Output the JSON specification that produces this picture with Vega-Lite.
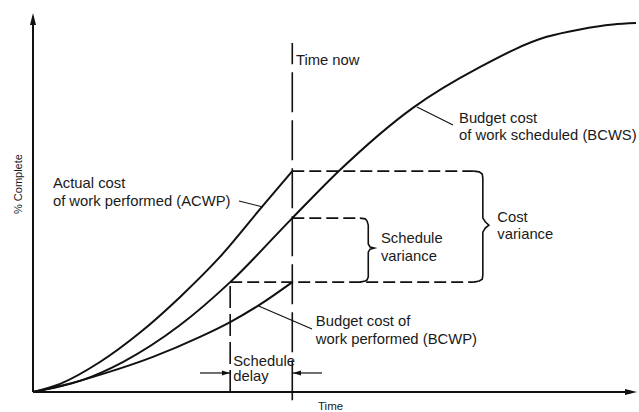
{
  "$schema": "https://vega.github.io/schema/vega-lite/v6.json",
  "width": 639,
  "height": 412,
  "autosize": {"type": "none"},
  "padding": 0,
  "background": "white",
  "config": {"view": {"stroke": null}},
  "datasets": {
    "curves": [
      {"series": "ACWP", "t": 0, "p": 0},
      {"series": "ACWP", "t": 4.5, "p": 2.2},
      {"series": "ACWP", "t": 11.1, "p": 8.1},
      {"series": "ACWP", "t": 17.7, "p": 16.0},
      {"series": "ACWP", "t": 24.4, "p": 25.7},
      {"series": "ACWP", "t": 31.0, "p": 36.5},
      {"series": "ACWP", "t": 38.1, "p": 50.3},
      {"series": "ACWP", "t": 43.0, "p": 59.7},
      {"series": "BCWS", "t": 0, "p": 0},
      {"series": "BCWS", "t": 7.8, "p": 3.0},
      {"series": "BCWS", "t": 14.9, "p": 8.1},
      {"series": "BCWS", "t": 24.4, "p": 18.1},
      {"series": "BCWS", "t": 32.7, "p": 29.7},
      {"series": "BCWS", "t": 43.0, "p": 47.0},
      {"series": "BCWS", "t": 50.9, "p": 60.0},
      {"series": "BCWS", "t": 63.0, "p": 76.8},
      {"series": "BCWS", "t": 74.1, "p": 87.8},
      {"series": "BCWS", "t": 85.2, "p": 96.0},
      {"series": "BCWS", "t": 90.7, "p": 98.0},
      {"series": "BCWS", "t": 96.2, "p": 99.3},
      {"series": "BCWS", "t": 100.0, "p": 99.7},
      {"series": "BCWP", "t": 0, "p": 0},
      {"series": "BCWP", "t": 5.0, "p": 1.8},
      {"series": "BCWP", "t": 11.6, "p": 4.9},
      {"series": "BCWP", "t": 19.9, "p": 9.5},
      {"series": "BCWP", "t": 27.7, "p": 14.9},
      {"series": "BCWP", "t": 32.7, "p": 18.9},
      {"series": "BCWP", "t": 37.6, "p": 23.6},
      {"series": "BCWP", "t": 43.0, "p": 29.7}
    ],
    "braces": [
      {"brace": "cost", "i": 1, "t": 73.1, "p": 59.7},
      {"brace": "cost", "i": 2, "t": 74.0, "p": 59.5},
      {"brace": "cost", "i": 3, "t": 74.5, "p": 58.9},
      {"brace": "cost", "i": 4, "t": 74.6, "p": 57.8},
      {"brace": "cost", "i": 5, "t": 74.6, "p": 47.0},
      {"brace": "cost", "i": 6, "t": 75.0, "p": 46.0},
      {"brace": "cost", "i": 7, "t": 75.6, "p": 45.1},
      {"brace": "cost", "i": 8, "t": 75.0, "p": 44.3},
      {"brace": "cost", "i": 9, "t": 74.6, "p": 43.2},
      {"brace": "cost", "i": 10, "t": 74.6, "p": 31.6},
      {"brace": "cost", "i": 11, "t": 74.5, "p": 30.5},
      {"brace": "cost", "i": 12, "t": 74.0, "p": 30.0},
      {"brace": "cost", "i": 13, "t": 73.1, "p": 29.7},
      {"brace": "schedule", "i": 1, "t": 54.2, "p": 47.0},
      {"brace": "schedule", "i": 2, "t": 55.1, "p": 46.8},
      {"brace": "schedule", "i": 3, "t": 55.4, "p": 46.2},
      {"brace": "schedule", "i": 4, "t": 55.6, "p": 45.1},
      {"brace": "schedule", "i": 5, "t": 55.6, "p": 40.0},
      {"brace": "schedule", "i": 6, "t": 55.9, "p": 39.2},
      {"brace": "schedule", "i": 7, "t": 56.6, "p": 38.9},
      {"brace": "schedule", "i": 8, "t": 55.9, "p": 38.6},
      {"brace": "schedule", "i": 9, "t": 55.6, "p": 37.8},
      {"brace": "schedule", "i": 10, "t": 55.6, "p": 31.1},
      {"brace": "schedule", "i": 11, "t": 55.4, "p": 30.3},
      {"brace": "schedule", "i": 12, "t": 55.1, "p": 30.0},
      {"brace": "schedule", "i": 13, "t": 54.2, "p": 29.7}
    ],
    "labels": [
      {"text": "Time now", "t": 43.6, "p": 88.4},
      {"text": "Budget cost", "t": 70.65, "p": 72.7},
      {"text": "of work scheduled (BCWS)", "t": 70.65, "p": 68.1},
      {"text": "Actual cost", "t": 3.3, "p": 55.1},
      {"text": "of work performed (ACWP)", "t": 3.3, "p": 50.3},
      {"text": "Cost", "t": 77.0, "p": 45.9},
      {"text": "variance", "t": 77.0, "p": 41.4},
      {"text": "Schedule", "t": 57.7, "p": 40.3},
      {"text": "variance", "t": 57.7, "p": 35.4},
      {"text": "Budget cost of", "t": 46.9, "p": 17.8},
      {"text": "work performed (BCWP)", "t": 46.9, "p": 13.0},
      {"text": "Schedule", "t": 33.2, "p": 7.0},
      {"text": "delay", "t": 33.2, "p": 3.0}
    ]
  },
  "encoding": {
    "x": {"field": "t", "type": "quantitative", "scale": {"domain": [-5.4726, 100.4975], "zero": false, "nice": false}, "axis": null},
    "y": {"field": "p", "type": "quantitative", "scale": {"domain": [-5.4054, 105.9459], "zero": false, "nice": false}, "axis": null}
  },
  "layer": [
    {
      "data": {"values": [{"t": 0, "t2": 0, "p": 0, "p2": 101.4}, {"t": 0, "t2": 99.0, "p": 0, "p2": 0}]},
      "mark": {"type": "rule", "color": "#111", "strokeWidth": 2},
      "encoding": {"x2": {"field": "t2"}, "y2": {"field": "p2"}}
    },
    {
      "data": {"values": [{"t": 0, "p": 100.8}]},
      "mark": {"type": "point", "shape": "M0,-1L0.5,1L-0.5,1Z", "size": 144, "filled": true, "color": "#111", "opacity": 1},
      "encoding": {}
    },
    {
      "data": {"values": [{"t": 99.17, "p": 0}]},
      "mark": {"type": "point", "shape": "M1,0L-1,-0.5L-1,0.5Z", "size": 144, "filled": true, "color": "#111", "opacity": 1},
      "encoding": {}
    },
    {
      "data": {"name": "curves"},
      "mark": {"type": "line", "color": "#111", "strokeWidth": 2, "interpolate": "monotone"},
      "encoding": {"detail": {"field": "series"}}
    },
    {
      "data": {"values": [{"t": 43.0, "t2": 43.0, "p": -2.2, "p2": 94.3}]},
      "mark": {"type": "rule", "color": "#111", "strokeWidth": 1.6, "strokeDash": [40, 8]},
      "encoding": {"x2": {"field": "t2"}, "y2": {"field": "p2"}}
    },
    {
      "data": {"values": [
        {"t": 43.0, "t2": 73.1, "p": 59.7, "p2": 59.7},
        {"t": 43.0, "t2": 54.2, "p": 47.0, "p2": 47.0},
        {"t": 32.7, "t2": 73.1, "p": 29.7, "p2": 29.7}
      ]},
      "mark": {"type": "rule", "color": "#111", "strokeWidth": 1.6, "strokeDash": [12, 5]},
      "encoding": {"x2": {"field": "t2"}, "y2": {"field": "p2"}}
    },
    {
      "data": {"values": [{"t": 32.7, "t2": 32.7, "p": 0, "p2": 29.7}]},
      "mark": {"type": "rule", "color": "#111", "strokeWidth": 1.6, "strokeDash": [22, 6]},
      "encoding": {"x2": {"field": "t2"}, "y2": {"field": "p2"}}
    },
    {
      "data": {"name": "braces"},
      "mark": {"type": "line", "color": "#111", "strokeWidth": 1.6},
      "encoding": {"detail": {"field": "brace"}, "order": {"field": "i", "type": "quantitative"}}
    },
    {
      "data": {"values": [
        {"t": 34.16, "t2": 38.14, "p": 51.62, "p2": 50.0},
        {"t": 63.68, "t2": 69.65, "p": 77.03, "p2": 72.16},
        {"t": 37.31, "t2": 46.27, "p": 23.3, "p2": 17.03},
        {"t": 27.69, "t2": 32.7, "p": 5.14, "p2": 5.14},
        {"t": 43.0, "t2": 47.93, "p": 5.14, "p2": 5.14}
      ]},
      "mark": {"type": "rule", "color": "#111", "strokeWidth": 1.2},
      "encoding": {"x2": {"field": "t2"}, "y2": {"field": "p2"}}
    },
    {
      "data": {"values": [{"t": 32.0, "p": 5.14}]},
      "mark": {"type": "point", "shape": "M1,0L-1,-0.6L-1,0.6Z", "size": 64, "filled": true, "color": "#111", "opacity": 1},
      "encoding": {}
    },
    {
      "data": {"values": [{"t": 43.78, "p": 5.14}]},
      "mark": {"type": "point", "shape": "M-1,0L1,-0.6L1,0.6Z", "size": 64, "filled": true, "color": "#111", "opacity": 1},
      "encoding": {}
    },
    {
      "data": {"name": "labels"},
      "mark": {"type": "text", "align": "left", "baseline": "alphabetic", "font": "Liberation Sans", "fontSize": 14.8, "color": "#1a1a1a"},
      "encoding": {"text": {"field": "text"}}
    },
    {
      "data": {"values": [{"text": "% Complete", "t": -1.8, "p": 56.2}]},
      "mark": {"type": "text", "align": "center", "baseline": "alphabetic", "angle": 270, "font": "Liberation Sans", "fontSize": 11, "color": "#1a1a1a"},
      "encoding": {"text": {"field": "text"}}
    },
    {
      "data": {"values": [{"text": "Time", "t": 47.26, "p": -4.95}]},
      "mark": {"type": "text", "align": "left", "baseline": "alphabetic", "font": "Liberation Sans", "fontSize": 11.5, "color": "#1a1a1a"},
      "encoding": {"text": {"field": "text"}}
    }
  ]
}
